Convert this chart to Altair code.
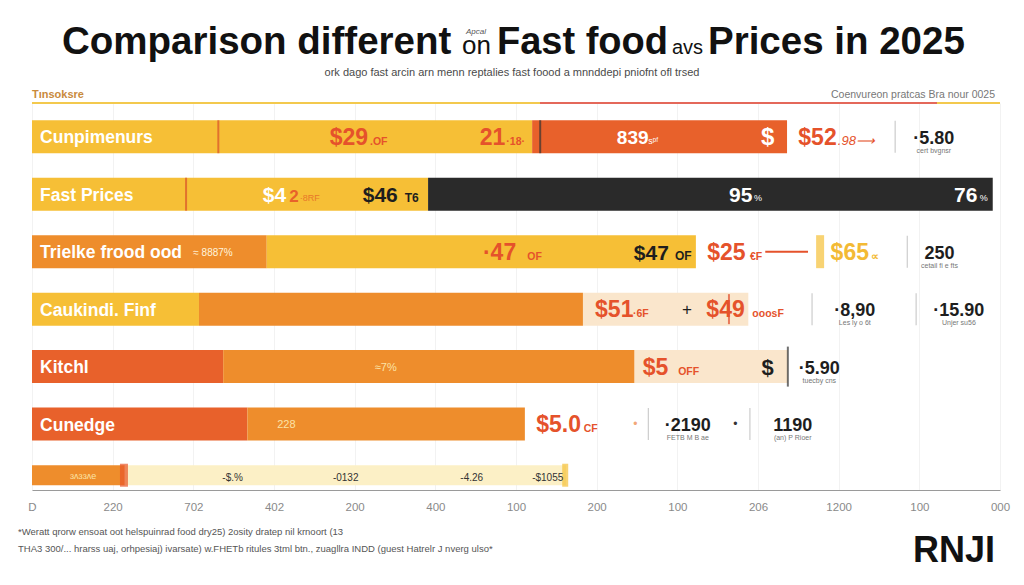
import altair as alt
import pandas as pd

# ---------------- data ----------------
row_names = ["Cunpimenurs", "Fast Prices", "Trielke frood ood", "Caukindi. Finf", "Kitchl", "Cunedge"]

# bar segments (lane = row position, start/end on the price axis)
seg_lane = [1, 1, 2, 2, 3, 3, 4, 4, 4, 5, 5, 5, 6, 6, 6.89, 6.89]
seg_start = [0, 620, 0, 491, 0, 291, 0, 207, 683, 0, 237, 747, 0, 267, 0, 115]
seg_end = [620, 936, 491, 1191, 291, 823, 207, 683, 888, 237, 747, 937, 267, 611, 115, 662]
seg_tone = ["yellow", "red", "yellow", "dark", "orange", "yellow",
            "yellow", "orange", "cream", "red", "orange", "cream",
            "red", "orange", "orange", "pale"]

# markers / dividers
tick_lane = [1, 3, 4, 4, 6, 6, 1, 2, 1, 5, 4, 3, 6.89, 6.89]
tick_x = [1070, 1085, 967, 1096, 764, 890, 231, 191, 630, 937, 864, 977, 114, 661]
tick_kind = ["divider", "divider", "divider", "divider", "divider", "divider",
             "red_line", "red_line", "dark_line", "dark_long", "red_mark",
             "yellow_block", "red_block", "yellow_thin"]

# connector line in row 3
link_lane = [3]
link_start = [909]
link_end = [962]

# labels
label_lane = [1, 1, 1, 1, 1, 1, 1, 1, 1, 1, 1, 1,
              2, 2, 2, 2, 2, 2, 2, 2, 2, 2,
              3, 3, 3, 3, 3, 3, 3, 3, 3, 3, 3, 3,
              4, 4, 4, 4, 4, 4, 4, 4, 4, 4,
              5, 5, 5, 5, 5, 5, 5,
              6, 6, 6, 6, 6, 6, 6, 6, 6, 6,
              6.89, 6.89, 6.89, 6.89, 6.89]
label_x = [10, 369, 419, 555, 588, 725, 764, 912, 950, 999, 1118, 1118,
           10, 286, 319, 332, 410, 462, 864, 895, 1143, 1175,
           10, 200, 559, 614, 746, 797, 837, 890, 990, 1040, 1125, 1125,
           10, 698, 745, 812, 836, 893, 1020, 1020, 1149, 1149,
           10, 425, 757, 801, 912, 976, 976,
           10, 304, 625, 684, 748, 813, 813, 872, 943, 943,
           47, 236, 373, 531, 620]
label_text = ["Cunpimenurs", "$29", ".OF", "21", "·18·", "839", "sᵖᶠ", "$", "$52", ".98⟶", "·5.80", "cert bvgnsr",
              "Fast Prices", "$4", "2", "·8RF", "$46", "T6", "95", "%", "76", "%",
              "Trielke frood ood", "≈ 8887%", "·47", "OF", "$47", "OF", "$25", "€F", "$65", "∝", "250", "cetail fi e fts",
              "Caukindi. Finf", "$51", "·6F", "+", "$49", "ooosF", "·8,90", "Les ly o 6t", "·15.90", "Unjer su56",
              "Kitchl", "≈7%", "$5", "OFF", "$", "·5.90", "tuecby cns",
              "Cunedge", "228", "$5.0", "CF", "•", "·2190", "FETB M B ae", "•", "1190", "(an) P Rioer",
              "ɜʌɜɜʌe", "-$.%", "-0132", "-4.26", "-$1055"]
label_role = ["name", "red_big", "red_small", "red_big", "red_small", "white_mid", "white_small", "white_sym",
              "red_big", "red_italic", "stat", "caption",
              "name", "white_big", "orange_mid", "orange_small", "dark_big", "dark_small",
              "white_big", "white_small", "white_big", "white_small",
              "name", "name_note", "red_big", "red_small", "dark_big", "dark_small", "red_big", "red_small",
              "yellow_big", "yellow_small", "stat", "caption",
              "name", "red_big", "red_small", "plus", "red_big", "red_small", "stat", "caption", "stat", "caption",
              "name", "pale", "red_big", "red_small", "dark_sym", "stat", "caption",
              "name", "pale", "red_big", "red_small", "dot_light", "stat", "caption", "dot_dark", "stat", "caption",
              "pale_tiny", "tiny", "tiny", "tiny", "tiny"]

axis_ticks = list(range(0, 1201, 100))
axis_labels = ["D", "220", "702", "402", "200", "400", "100", "200", "100", "206", "1200", "100", "000"]

# ---------------- styles ----------------
FONT = "Liberation Sans"
tone_domain = ["yellow", "orange", "red", "dark", "cream", "pale"]
tone_range = ["#F6BF36", "#EE8D2C", "#E8612B", "#2A2A2A", "#FAE6CC", "#FCF0C6"]

tick_styles = {
    "divider": dict(color="#A8A8A8", thickness=1, size=32),
    "red_line": dict(color="#D9502A", thickness=2, size=33),
    "dark_line": dict(color="#333333", thickness=2, size=33),
    "dark_long": dict(color="#333333", thickness=2, size=40),
    "red_mark": dict(color="#E04A2A", thickness=2, size=30),
    "yellow_block": dict(color="#F5C038", thickness=8, size=33),
    "red_block": dict(color="#E8552A", thickness=8, size=23),
    "yellow_thin": dict(color="#F5C038", thickness=6, size=23),
}

RED = "#E5522B"
DARK = "#1E1E1E"
label_styles = {
    "name": dict(color="white", fontSize=17.5, fontWeight="bold", align="left", dy=6.5),
    "name_note": dict(color="#FFF4DD", fontSize=10, align="left", dy=4),
    "red_big": dict(color=RED, fontSize=23, fontWeight="bold", align="left", dy=8),
    "red_small": dict(color=RED, fontSize=10.5, fontWeight="bold", align="left", dy=8),
    "red_italic": dict(color=RED, fontSize=13, fontStyle="italic", align="left", dy=8),
    "white_big": dict(color="white", fontSize=21, fontWeight="bold", align="left", dy=7.5),
    "white_mid": dict(color="white", fontSize=19, fontWeight="bold", align="left", dy=7),
    "white_small": dict(color="white", fontSize=9, align="left", dy=7),
    "white_sym": dict(color="white", fontSize=24, fontWeight="bold", align="center", dy=8),
    "orange_mid": dict(color="#E8622A", fontSize=17, fontWeight="bold", align="left", dy=7.5),
    "orange_small": dict(color="#E8772A", fontSize=9, align="left", dy=7),
    "dark_big": dict(color=DARK, fontSize=21, fontWeight="bold", align="left", dy=8),
    "dark_small": dict(color=DARK, fontSize=12, fontWeight="bold", align="left", dy=8),
    "yellow_big": dict(color="#F3BA35", fontSize=23, fontWeight="bold", align="left", dy=8),
    "yellow_small": dict(color="#F3BA35", fontSize=11, fontWeight="bold", align="left", dy=8),
    "stat": dict(color=DARK, fontSize=18, fontWeight="bold", align="center", dy=7),
    "caption": dict(color="#777777", fontSize=7, align="center", dy=16),
    "dark_sym": dict(color=DARK, fontSize=22, fontWeight="bold", align="center", dy=8),
    "plus": dict(color=DARK, fontSize=17, align="center", dy=6),
    "pale": dict(color="#FBE3A6", fontSize=11, align="left", dy=4),
    "dot_light": dict(color="#F2A77A", fontSize=12, align="center", dy=4),
    "dot_dark": dict(color="#333333", fontSize=12, align="center", dy=4),
    "pale_tiny": dict(color="#FBE3A6", fontSize=9, align="left", dy=4),
    "tiny": dict(color="#333333", fontSize=10, align="left", dy=6),
}

# ---------------- frames ----------------
segs = pd.DataFrame({"lane": seg_lane, "start": seg_start, "end": seg_end, "tone": seg_tone})
ticks = pd.DataFrame({"lane": tick_lane, "xv": tick_x, "kind": tick_kind})
links = pd.DataFrame({"lane": link_lane, "start": link_start, "end": link_end})
labels = pd.DataFrame({"lane": label_lane, "xv": label_x, "text": label_text, "role": label_role})

label_js = "[" + ",".join("'" + s + "'" for s in axis_labels) + "]"
X_SCALE = alt.Scale(domain=[0, 1200], nice=False, zero=False)
Y_SCALE = alt.Scale(domain=[0.5, 7.06], reverse=True, nice=False, zero=False)
X_AXIS = alt.Axis(values=axis_ticks, labelExpr=label_js + "[round(datum.value/100)]",
                  title=None, ticks=False, domainColor="#9A9A9A", domainWidth=1,
                  labelColor="#8A8A8A", labelFontSize=11.5, labelFont=FONT, labelPadding=11,
                  labelOverlap=False, labelFlush=False, grid=True, gridColor="#F2F2F2")


def xenc(field):
    return alt.X(field, type="quantitative", scale=X_SCALE, axis=X_AXIS)


def yenc():
    return alt.Y("lane:Q", scale=Y_SCALE, axis=None)


layers = []

base_bar = alt.Chart(segs).encode(
    x=xenc("start"), x2="end", y=yenc(),
    color=alt.Color("tone:N", scale=alt.Scale(domain=tone_domain, range=tone_range), legend=None),
)
layers.append(base_bar.transform_filter("datum.lane < 6.5").mark_bar(size=33, cornerRadius=0))
layers.append(base_bar.transform_filter("datum.lane > 6.5").mark_bar(size=20, cornerRadius=0))

for kind, st in tick_styles.items():
    layers.append(
        alt.Chart(ticks).transform_filter(alt.datum.kind == kind)
        .mark_tick(orient="vertical", color=st["color"], thickness=st["thickness"], size=st["size"])
        .encode(x=xenc("xv"), y=yenc())
    )

layers.append(
    alt.Chart(links).mark_rule(color="#E5522B", strokeWidth=2)
    .encode(x=xenc("start"), x2="end", y=yenc())
)

for role, st in label_styles.items():
    layers.append(
        alt.Chart(labels).transform_filter(alt.datum.role == role)
        .mark_text(font=FONT, baseline="alphabetic", **st)
        .encode(x=xenc("xv"), y=yenc(), text="text:N")
    )


# ---------------- header / footer annotations (pixel placed) ----------------
def note(text, x, y, **style):
    return alt.Chart(pd.DataFrame({"t": [text]})).mark_text(font=FONT, baseline="alphabetic", **style).encode(
        x=alt.value(x), y=alt.value(y), text="t:N")


def hline(x0, x1, y, color):
    return alt.Chart(pd.DataFrame({"a": [0]})).mark_rule(color=color, strokeWidth=2).encode(
        x=alt.value(x0), x2=alt.value(x1), y=alt.value(y))


TITLE = "#111111"
layers += [
    note("Comparison different", 30, -49, fontSize=38.5, fontWeight="bold", color=TITLE, align="left"),
    note("on", 430, -49, fontSize=26, color=TITLE, align="left"),
    note("Apcal", 434, -69, fontSize=8, fontStyle="italic", color="#555555", align="left"),
    note("Fast food", 465, -49, fontSize=38, fontWeight="bold", color=TITLE, align="left"),
    note("avs", 640, -49, fontSize=20, color=TITLE, align="left"),
    note("Prices in 2025", 676, -49, fontSize=38.5, fontWeight="bold", color=TITLE, align="left"),
    note("ork dago fast arcin arn menn reptalies fast foood a mnnddepi pniofnt ofl trsed", 480, -27,
         fontSize=11, color="#4A4A4A", align="center"),
    note("Tınsoksre", 0, -5, fontSize=11, fontWeight="bold", color="#C98A3C", align="left"),
    note("Coenvureon pratcas Bra nour 0025", 963, -5, fontSize=10.5, color="#777777", align="right"),
    hline(0, 508, 0, "#F3C94D"),
    hline(508, 905, 0, "#E4685A"),
    hline(905, 968, 0, "#F3C94D"),
    note("*Weratt qrorw ensoat oot helspuinrad food dry25) 2osity dratep nil krnoort (13", -14, 432,
         fontSize=9.5, color="#555555", align="left"),
    note("THA3 300/... hrarss uaj, orhpesiaj) ivarsate) w.FHETb ritules 3tml btn., zuagllra INDD (guest Hatrelr J nverg ulso*",
         -14, 449, fontSize=9.5, color="#555555", align="left"),
    note("RNJI", 963, 459, fontSize=36, fontWeight="bold", color="#111111", align="right"),
]

chart = alt.layer(*layers).properties(
    width=968, height=387,
    padding={"left": 32, "top": 103, "right": 24, "bottom": 95},
    autosize=alt.AutoSizeParams(type="none"),
    background="white",
).configure_view(stroke=None)

chart.save("out.html", embed_options={"renderer": "svg", "actions": False})
